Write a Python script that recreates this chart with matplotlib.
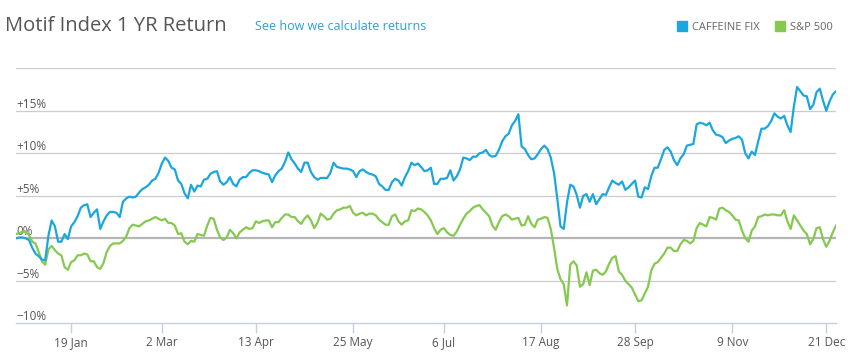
import numpy as np
import pandas as pd
import matplotlib
matplotlib.use('Agg')
import matplotlib.pyplot as plt
import matplotlib.transforms as mtransforms

plt.rcParams['font.family'] = ['Open Sans', 'DejaVu Sans']

# ---- data (daily % return) ----
holidays = ['2014-12-25', '2015-01-01', '2015-01-19', '2015-02-16', '2015-04-03',
            '2015-05-25', '2015-07-03', '2015-09-07', '2015-11-26', '2015-12-25']
dates = pd.bdate_range('2014-12-23', '2015-12-24', freq='C', holidays=holidays)

caffeine_fix = [
    0.0, 0.1, 0.1, 0.0, -0.2, -1.1, -1.8, -2.1, -2.5, -2.6,
    0.3, 2.1, 1.4, -0.4, -0.4, 0.5, -0.1, 1.4, 1.9, 2.6,
    3.6, 3.9, 4.0, 2.5, 3.0, 3.4, 1.1, 2.0, 2.7, 3.1,
    3.1, 3.0, 2.5, 4.3, 4.7, 4.9, 4.8, 4.9, 5.4, 5.8,
    6.0, 6.3, 6.8, 7.0, 7.7, 8.8, 9.5, 9.1, 8.3, 8.1,
    6.8, 6.4, 5.3, 4.7, 6.3, 5.5, 6.2, 6.1, 6.9, 7.0,
    7.6, 7.8, 7.9, 6.7, 6.3, 6.6, 7.2, 6.4, 6.1, 6.9,
    7.2, 7.2, 7.7, 8.0, 8.0, 7.9, 7.7, 7.6, 7.5, 6.6,
    7.4, 7.9, 8.2, 9.0, 10.1, 9.3, 8.8, 8.2, 7.8, 8.9,
    8.9, 7.8, 7.2, 6.9, 7.1, 7.1, 7.1, 7.7, 8.9, 8.4,
    8.3, 8.2, 8.2, 8.1, 7.9, 7.2, 7.9, 8.1, 7.8, 7.6,
    7.5, 7.3, 6.4, 6.1, 5.7, 5.7, 6.6, 7.0, 6.8, 6.2,
    7.2, 7.9, 8.9, 8.6, 8.8, 8.4, 7.9, 8.0, 8.3, 6.4,
    6.4, 7.0, 7.0, 7.1, 8.0, 6.8, 7.3, 8.1, 9.5, 9.4,
    9.2, 9.6, 9.6, 10.0, 10.1, 10.4, 9.8, 9.6, 9.7, 10.4,
    11.4, 12.0, 12.3, 13.3, 13.8, 14.6, 10.8, 10.5, 9.8, 9.3,
    9.4, 9.9, 10.5, 10.9, 10.5, 9.5, 7.7, 4.7, 1.4, 1.1,
    4.2, 6.3, 6.1, 5.1, 3.6, 5.0, 5.2, 4.3, 5.2, 4.0,
    4.6, 5.2, 5.1, 6.0, 6.8, 6.5, 6.3, 6.7, 5.7, 6.0,
    6.4, 6.8, 4.9, 4.8, 6.0, 5.8, 7.3, 8.3, 8.3, 9.3,
    10.4, 10.7, 10.2, 9.2, 8.6, 9.4, 9.9, 10.9, 11.0, 11.1,
    13.4, 13.6, 13.5, 13.3, 13.6, 12.7, 12.2, 12.1, 11.9, 11.2,
    11.5, 11.7, 11.8, 12.0, 11.6, 10.0, 9.4, 10.2, 9.8, 11.4,
    12.9, 12.9, 13.2, 13.8, 14.7, 14.3, 14.1, 14.4, 13.3, 12.5,
    15.5, 17.8, 17.3, 16.8, 16.7, 15.2, 15.7, 17.2, 17.6, 16.2,
    15.0, 16.1, 16.9, 17.3,
]

sp500 = [
    0.5, 0.6, 0.8, 0.7, 0.4, -0.4, -0.6, -1.6, -2.7, -3.1,
    -1.3, -0.9, -1.4, -1.8, -2.0, -3.4, -3.7, -2.8, -2.6, -2.0,
    -2.0, -1.8, -1.9, -2.7, -2.7, -3.4, -3.6, -2.9, -1.6, -0.9,
    -0.6, -0.6, -0.6, -0.3, 0.2, 1.2, 1.6, 1.5, 1.4, 1.7,
    2.0, 2.1, 2.3, 2.5, 2.3, 2.1, 2.3, 1.8, 1.8, 1.5,
    0.5, 0.6, -0.4, -0.7, -0.3, -0.4, 0.5, 0.4, 0.3, 1.5,
    2.4, 2.3, 1.0, 0.1, -0.2, 0.1, 1.0, 0.6, 0.0, 0.7,
    1.0, 1.3, 1.1, 1.2, 2.0, 1.8, 2.0, 2.1, 2.1, 1.3,
    1.9, 1.9, 2.4, 2.8, 2.8, 2.5, 2.5, 2.0, 1.7, 2.3,
    2.7, 2.1, 1.2, 1.8, 2.9, 2.6, 2.2, 2.3, 2.9, 3.3,
    3.4, 3.6, 3.6, 3.8, 3.0, 2.7, 2.9, 3.0, 2.7, 2.9,
    2.9, 2.7, 2.2, 1.9, 1.6, 1.6, 2.6, 2.8, 2.0, 1.6,
    2.0, 2.1, 3.3, 3.2, 3.5, 3.4, 3.1, 2.7, 2.1, 1.2,
    0.5, 1.0, 1.2, 0.7, 0.4, 0.3, 0.8, 1.6, 2.3, 2.9,
    3.2, 3.6, 3.8, 3.9, 3.4, 3.0, 2.6, 1.5, 1.0, 1.9,
    2.6, 2.8, 2.6, 2.2, 2.3, 2.4, 1.5, 1.6, 2.6, 1.7,
    1.3, 2.2, 2.3, 2.5, 2.4, 1.1, -1.1, -3.6, -4.8, -5.4,
    -7.9, -3.1, -2.7, -3.2, -5.7, -5.4, -4.0, -5.5, -3.8, -3.7,
    -4.1, -4.3, -3.9, -3.0, -2.3, -2.1, -3.9, -4.3, -5.0, -5.4,
    -5.8, -6.6, -7.4, -7.3, -6.5, -5.7, -3.8, -3.0, -2.8, -2.3,
    -1.8, -1.1, -1.1, -1.5, -1.5, -0.7, -0.2, -0.3, -0.6, -0.3,
    1.2, 1.8, 1.6, 1.4, 2.5, 2.4, 2.2, 3.5, 3.6, 3.3,
    3.1, 2.7, 2.2, 2.1, 0.9, 0.0, -0.4, 0.9, 1.4, 2.5,
    2.6, 2.8, 2.7, 2.8, 2.8, 2.7, 2.7, 3.3, 2.0, 1.1,
    2.7, 2.1, 1.5, 0.9, 0.5, -0.7, -0.1, 1.2, 1.3, -0.1,
    -1.0, -0.3, 0.7, 1.5,
]

tick_dates = ['2015-01-19', '2015-03-02', '2015-04-13', '2015-05-25', '2015-07-06',
              '2015-08-17', '2015-09-28', '2015-11-09', '2015-12-21']
tick_labels = ['19 Jan', '2 Mar', '13 Apr', '25 May', '6 Jul',
               '17 Aug', '28 Sep', '9 Nov', '21 Dec']
y_levels = [-10, -5, 0, 5, 10, 15]
y_labels = ['\u221210%', '\u22125%', '0%', '+5%', '+10%', '+15%']

BLUE = '#1ba7de'
GREEN = '#85c950'
W, H = 855, 363

n = min(len(dates), len(caffeine_fix), len(sp500))
x = np.arange(n)

fig = plt.figure(figsize=(W / 100, H / 100), dpi=100)
ax = fig.add_axes([16 / W, 1 - 323.3 / H, (836 - 16) / W, (323.3 - 68.3) / H])

# grid lines
for v in [-5, 5, 10, 15, 20]:
    ax.axhline(v, color='#cccccc', lw=0.9, zorder=1)
ax.axhline(0, color='#b5b5b5', lw=1.6, zorder=1)

ax.plot(x, sp500[:n], color=GREEN, lw=1.6, zorder=3, solid_joinstyle='round')
ax.plot(x, caffeine_fix[:n], color=BLUE, lw=1.6, zorder=4, solid_joinstyle='round')

ax.set_xlim(0, n - 1)
ax.set_ylim(-10, 20)

for s in ['top', 'right', 'left']:
    ax.spines[s].set_visible(False)
ax.spines['bottom'].set_color('#c4d0de')
ax.spines['bottom'].set_linewidth(1.0)

tick_pos = dates.searchsorted(pd.to_datetime(tick_dates))
ax.set_xticks(tick_pos)
ax.set_xticklabels(tick_labels)
ax.tick_params(axis='x', length=7, width=1.0, color='#c4d0de', pad=2,
               labelsize=8.5, labelcolor='#555555')
ax.set_yticks([])

# y labels sit just above their grid lines, inside the plot
trans = mtransforms.blended_transform_factory(ax.transAxes, ax.transData)
for v, lab in zip(y_levels, y_labels):
    ax.text(0, v, lab, transform=trans, ha='left', va='bottom',
            fontsize=8.5, color='#555555', zorder=2)

# header
def px(xp, yp):
    return xp / W, 1 - yp / H

fig.text(*px(5, 31), 'Motif Index 1 YR Return', fontsize=14.5, color='#555555',
         ha='left', va='baseline')
fig.text(*px(255, 30.5), 'See how we calculate returns', fontsize=9, color='#2a9fdc',
         ha='left', va='baseline')

# legend
for x0, col, lab in [(677, BLUE, 'CAFFEINE FIX'), (775, GREEN, 'S&P 500')]:
    fig.patches.append(plt.Rectangle(px(x0, 31), 10 / W, 10 / H, color=col,
                                     transform=fig.transFigure, figure=fig))
    fig.text(*px(x0 + 15, 30.5), lab, fontsize=8, color='#666666',
             ha='left', va='baseline')

fig.savefig('out.png', dpi=100)
